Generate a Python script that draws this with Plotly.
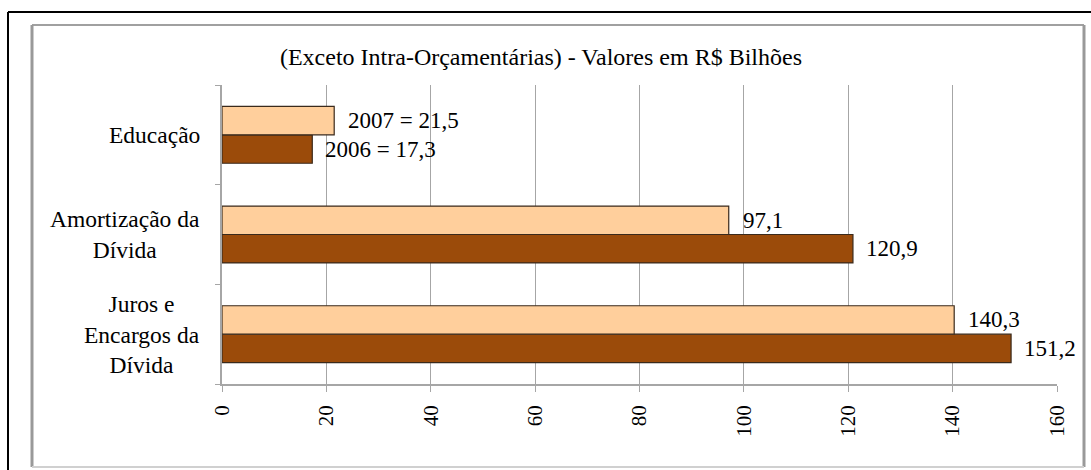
import plotly.graph_objects as go

categories = ["Juros e<br>Encargos da<br>Dívida", "Amortização da<br>Dívida", "Educação"]
values_2006 = [151.2, 120.9, 17.3]
values_2007 = [140.3, 97.1, 21.5]
labels_2006 = ["151,2", "120,9", "2006 = 17,3"]
labels_2007 = ["140,3", "97,1", "2007 = 21,5"]
x_ticks = [0, 20, 40, 60, 80, 100, 120, 140, 160]
title_text = "(Exceto Intra-Orçamentárias) - Valores em R$ Bilhões"

W, H = 1091, 470
PL, PR, PT, PB = 222, 1057, 85, 384
BARGAP = 0.43
FONT = "'Liberation Serif', 'Times New Roman', Times, serif"
LIGHT = "#FFCF9C"
DARK = "#9B4B0A"
EDGE = "#3A2A1C"
GRID = "#A6A6A6"


def px(x):
    return (x - PL) / (PR - PL)


def py(y):
    return (PB - y) / (PB - PT)


fig = go.Figure()
fig.add_trace(go.Bar(
    y=categories, x=values_2006, orientation="h", name="2006",
    marker=dict(color=DARK, line=dict(color=EDGE, width=1.2)),
))
fig.add_trace(go.Bar(
    y=categories, x=values_2007, orientation="h", name="2007",
    marker=dict(color=LIGHT, line=dict(color=EDGE, width=1.2)),
))

off = (1 - BARGAP) / 4
annotations = []
for i, (v6, v7, l6, l7) in enumerate(zip(values_2006, values_2007, labels_2006, labels_2007)):
    annotations.append(dict(x=v6, y=i - off, xref="x", yref="y", text=l6, showarrow=False,
                            xanchor="left", yanchor="middle", xshift=11,
                            font=dict(family=FONT, size=23, color="black")))
    annotations.append(dict(x=v7, y=i + off, xref="x", yref="y", text=l7, showarrow=False,
                            xanchor="left", yanchor="middle", xshift=12,
                            font=dict(family=FONT, size=23, color="black")))
for i, c in enumerate(categories):
    annotations.append(dict(x=0, y=i, xref="paper", yref="y", text=c, showarrow=False,
                            xanchor="right", yanchor="middle", xshift=-20, align="center",
                            font=dict(family=FONT, size=23.5, color="black")))

shapes = [
    dict(type="line", xref="paper", yref="paper", x0=px(8), x1=px(1100), y0=py(12), y1=py(12),
         line=dict(color="black", width=2)),
    dict(type="line", xref="paper", yref="paper", x0=px(8), x1=px(8), y0=py(12), y1=py(480),
         line=dict(color="black", width=2)),
    dict(type="line", xref="paper", yref="paper", x0=px(32), x1=px(1084), y0=py(25), y1=py(25),
         line=dict(color="#A0A0A0", width=2)),
    dict(type="line", xref="paper", yref="paper", x0=px(32), x1=px(32), y0=py(25), y1=py(467),
         line=dict(color="#999999", width=3)),
    dict(type="line", xref="paper", yref="paper", x0=px(1084), x1=px(1084), y0=py(25), y1=py(467),
         line=dict(color="#999999", width=3)),
    dict(type="line", xref="paper", yref="paper", x0=px(32), x1=px(1084), y0=py(467), y1=py(467),
         line=dict(color="#D0D0D0", width=2)),
]

fig.update_layout(
    width=W, height=H,
    margin=dict(l=PL, r=W - PR, t=PT, b=H - PB, pad=0),
    paper_bgcolor="white", plot_bgcolor="white",
    barmode="group", bargap=BARGAP, bargroupgap=0,
    showlegend=False,
    title=dict(text=title_text, xref="container", yref="container", x=541 / W, y=1 - 57 / H,
               xanchor="center", yanchor="middle",
               font=dict(family=FONT, size=24, color="black")),
    annotations=annotations,
    shapes=shapes,
    xaxis=dict(range=[0, 160], tickmode="array", tickvals=x_ticks, ticktext=[str(t) for t in x_ticks],
               tickangle=-90, showgrid=True, gridcolor=GRID, gridwidth=1,
               showline=True, linecolor=GRID, linewidth=1.5,
               ticks="outside", ticklen=6, tickcolor=GRID, ticklabelstandoff=5,
               tickfont=dict(family=FONT, size=21, color="black"), zeroline=False),
    yaxis=dict(categoryorder="array", categoryarray=categories, showticklabels=False,
               showline=True, linecolor=GRID, linewidth=1.5,
               ticks="outside", ticklen=5, tickcolor=GRID, tickson="boundaries",
               showgrid=False, zeroline=False),
)

fig.write_html("out.html", config={"displayModeBar": False},
               post_script="document.body.style.margin='0';document.body.style.overflow='hidden';")
